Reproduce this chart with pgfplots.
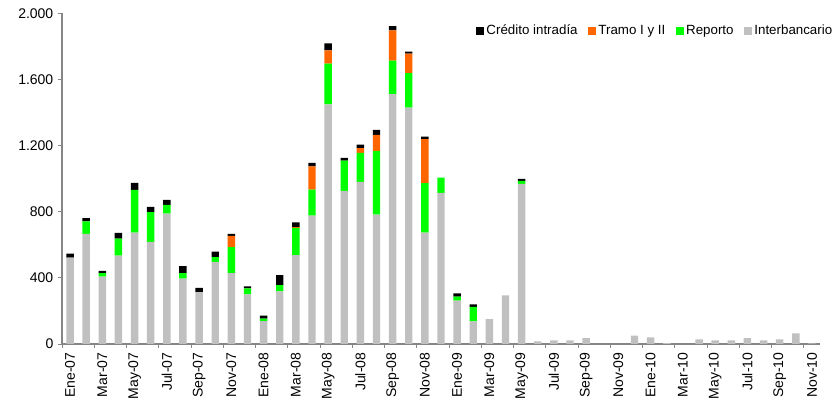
\documentclass[border=0pt]{standalone}
\usepackage{pgfplots}
\usepackage{pgfplotstable}
\pgfplotsset{compat=1.18}
\usepackage{fontspec}
\setmainfont{Liberation Sans}

\definecolor{interb}{HTML}{C0C0C0}
\definecolor{reporto}{HTML}{00FF00}
\definecolor{tramo}{HTML}{FF6600}
\definecolor{axgray}{HTML}{868686}

\pgfplotsset{sq/.style={legend image code/.code={\fill[#1] (0pt,-2.6pt) rectangle (5.2pt,2.6pt);}}}

% monthly amounts: Interbancario, Reporto, Tramo I y II, Credito intradia
\pgfplotstableread{
x  I    R    T    C
0  523  0    0    23
1  666  75   0    20
2  408  21   0    13
3  534  104  0    34
4  674  258  0    43
5  618  179  0    33
6  789  53   0    30
7  395  34   0    42
8  314  0    0    26
9  497  29   0    32
10 429  157  68   12
11 300  36   0    12
12 139  14   0    18
13 318  38   0    61
14 538  165  4    28
15 777  157  141  20
16 1450 246  80   43
17 926  183  0    17
18 981  175  28   22
19 783  385  97   30
20 1511 203  183  26
21 1430 209  117  12
22 674  299  266  15
23 914  93   0    0
24 263  23   0    20
25 137  88   0    14
26 151  0    0    0
27 294  0    0    0
28 969  18   0    12
29 16   0    0    0
30 22   0    0    0
31 22   0    0    0
32 36   0    0    0
33 0    0    0    0
34 0    0    0    0
35 50   0    0    0
36 40   0    0    0
37 6    0    0    0
38 0    0    0    0
39 28   0    0    0
40 22   0    0    0
41 22   0    0    0
42 36   0    0    0
43 22   0    0    0
44 28   0    0    0
45 64   0    0    0
46 4    0    0    0
}\datatable

\begin{document}
\begin{tikzpicture}
\begin{axis}[
    scale only axis,
    width=568.5pt, height=248pt,
    ybar stacked,
    bar width=0.46,
    xmin=-0.5, xmax=46.5,
    ymin=0, ymax=2000,
    axis x line*=bottom,
    axis y line*=left,
    axis line style={axgray, line width=0.8pt},
    tick align=outside,
    xtick={0,2,...,46},
    xticklabels={Ene-07,Mar-07,May-07,Jul-07,Sep-07,Nov-07,
                 Ene-08,Mar-08,May-08,Jul-08,Sep-08,Nov-08,
                 Ene-09,Mar-09,May-09,Jul-09,Sep-09,Nov-09,
                 Ene-10,Mar-10,May-10,Jul-10,Sep-10,Nov-10},
    minor xtick={-0.5,1.5,...,45.5},
    major x tick style={draw=none},
    minor x tick style={axgray, line width=0.6pt},
    minor tick length=3pt,
    ytick={0,400,...,2000},
    major y tick style={axgray, line width=0.6pt},
    major tick length=3pt,
    scaled y ticks=false,
    xticklabel style={rotate=90, anchor=east, font=\fontsize{10.5}{12}\selectfont},
    yticklabel style={font=\fontsize{10.5}{12}\selectfont,
        /pgf/number format/.cd, fixed, use comma, 1000 sep={.}, assume math mode=true},
    legend style={at={(1.02,0.975)}, anchor=north east, draw=none, fill=none,
        font=\fontsize{10}{12}\selectfont, inner sep=0pt,
        /tikz/every even column/.append style={column sep=6pt}},
    legend columns=-1,
]
\addlegendimage{sq=black}
\addlegendentry{Crédito intradía}
\addlegendimage{sq=tramo}
\addlegendentry{Tramo I y II}
\addlegendimage{sq=reporto}
\addlegendentry{Reporto}
\addlegendimage{sq=interb}
\addlegendentry{Interbancario}

\addplot[fill=interb, draw=none] table[x=x, y=I] {\datatable};
\addplot[fill=reporto, draw=none] table[x=x, y=R] {\datatable};
\addplot[fill=tramo, draw=none] table[x=x, y=T] {\datatable};
\addplot[fill=black, draw=none] table[x=x, y=C] {\datatable};
\end{axis}
\path ([shift={(-46.5pt,-48.5pt)}]current axis.south west) rectangle ([shift={(12pt,10pt)}]current axis.north east);
\end{tikzpicture}
\end{document}
